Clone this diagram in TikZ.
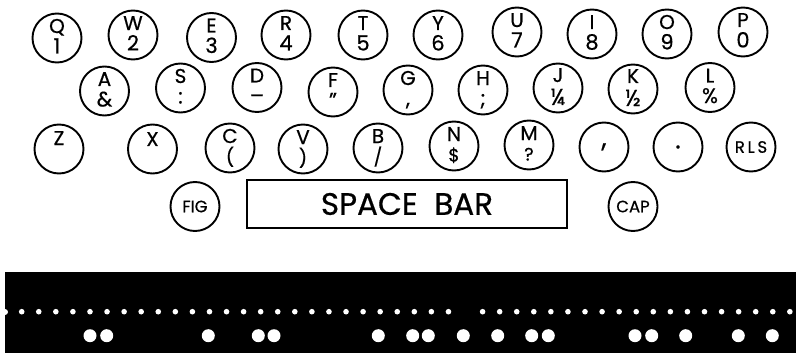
\documentclass[tikz,border=0pt]{standalone}
\usepackage{fontspec}
\setmainfont{Poppins}[FakeBold=0.6]
\begin{document}
\begin{tikzpicture}[x=1pt,y=-1pt,
  keycap/.style={circle,draw,line width=1.9pt,minimum size=49pt,inner sep=0pt},
  ltr/.style={font=\fontsize{20}{20}\selectfont,anchor=base,inner sep=0pt},
  figr/.style={font=\fontsize{21}{21}\selectfont,anchor=base,inner sep=0pt},
  figs/.style={font=\fontsize{18}{18}\selectfont,anchor=base,inner sep=0pt},
  frac/.style={font=\fontsize{23}{23}\selectfont,anchor=base,inner sep=0pt},
  mid/.style={font=\fontsize{26}{26}\selectfont,inner sep=0pt},
  small/.style={font=\fontsize{16.5}{16.5}\selectfont,inner sep=0pt},
  bar/.style={draw,line width=2.4pt,inner sep=0pt},
  sprocket/.style={fill=white,draw=none},
  datahole/.style={fill=white,draw=none}]
\useasboundingbox (0,0) rectangle (796,353);
\newcommand\kb[5]{%
  \node[keycap] (#1) at (#2,#3) {};
  \node[ltr] (#1l) at (#2,#3-5) {#4};
  \node[figr] (#1f) at (#2,#3+15.5) {#5};}
\newcommand\kc[5]{%
  \node[keycap] (#1) at (#2,#3) {};
  \node[ltr] (#1l) at (#2,#3-5) {#4};
  \node[figs] (#1f) at (#2,#3+15.5) {#5};}
\newcommand\kf[5]{%
  \node[keycap] (#1) at (#2,#3) {};
  \node[ltr] (#1l) at (#2,#3-6) {#4};
  \node[frac] (#1f) at (#2,#3+17) {#5};}
% row 1
\kb{q}{57}{38}{Q}{1}
\kb{w}{133}{35}{W}{2}
\kb{e}{211.5}{37.5}{E}{3}
\kb{r}{286}{35}{R}{4}
\kb{t}{363}{35}{T}{5}
\kb{y}{438}{35}{Y}{6}
\kb{u}{517}{32}{U}{7}
\kb{i}{592}{34}{I}{8}
\kb{o}{667}{34}{O}{9}
\kb{p}{743}{32}{P}{0}
% row 2
\kb{a}{104.5}{91}{A}{\&}
\kb{s}{180.5}{88}{S}{:}
\kb{d}{257}{87.5}{D}{–}
\kb{f}{333}{92}{F}{”}
\kb{g}{408}{90}{G}{,}
\kb{h}{483}{90}{H}{;}
\kf{j}{558}{88}{J}{¼}
\kf{k}{633}{89}{K}{½}
\kb{l}{710}{87.5}{L}{\%}
% row 3
\node[keycap] (z) at (59,149) {};
\node[ltr] (zl) at (59,145) {Z};
\node[keycap] (x) at (152.5,149) {};
\node[ltr] (xl) at (152.5,146) {X};
\kc{c}{230}{148}{C}{(}
\kc{v}{303}{149}{V}{)}
\kc{b}{378}{148}{B}{/}
\kc{n}{454}{146}{N}{\$}
\kc{m}{529}{145}{M}{?}
\node[keycap] (comma) at (604,147) {};
\node[mid] (commat) at (604,147) {,};
\node[keycap] (period) at (678,147) {};
\node[mid] (periodt) at (678,147) {.};
\node[keycap] (rls) at (751,147) {};
\node[small] (rlst) at (751,147) {R\,L\,S};
% row 4
\node[keycap] (fig) at (195,206.5) {};
\node[small] (figt) at (195,206.5) {FIG};
\node[keycap] (cap) at (633,206.5) {};
\node[small] (capt) at (633,206.5) {CAP};
\node[bar,minimum width=320pt,minimum height=48pt,font=\fontsize{31}{31}\selectfont] (space) at (407,204) {SPACE\ \ BAR};
% tape
\fill[black] (5,272) rectangle (796,353);
\fill[white] (5,312) circle (3);
\foreach \i in {0,...,45} {
  \ifnum\i=26\relax\else
    \fill[sprocket] (21.7+17.07*\i,311.7) circle (2.8);
  \fi
}
\foreach \xx in {90,106.7,208.3,258.3,274,378.3,412.7,428.3,463.3,497.7,531.7,548.3,635,651.7,685.7,738.3,772.3}
  \fill[datahole] (\xx,335.7) circle (6.5);
\end{tikzpicture}
\end{document}
